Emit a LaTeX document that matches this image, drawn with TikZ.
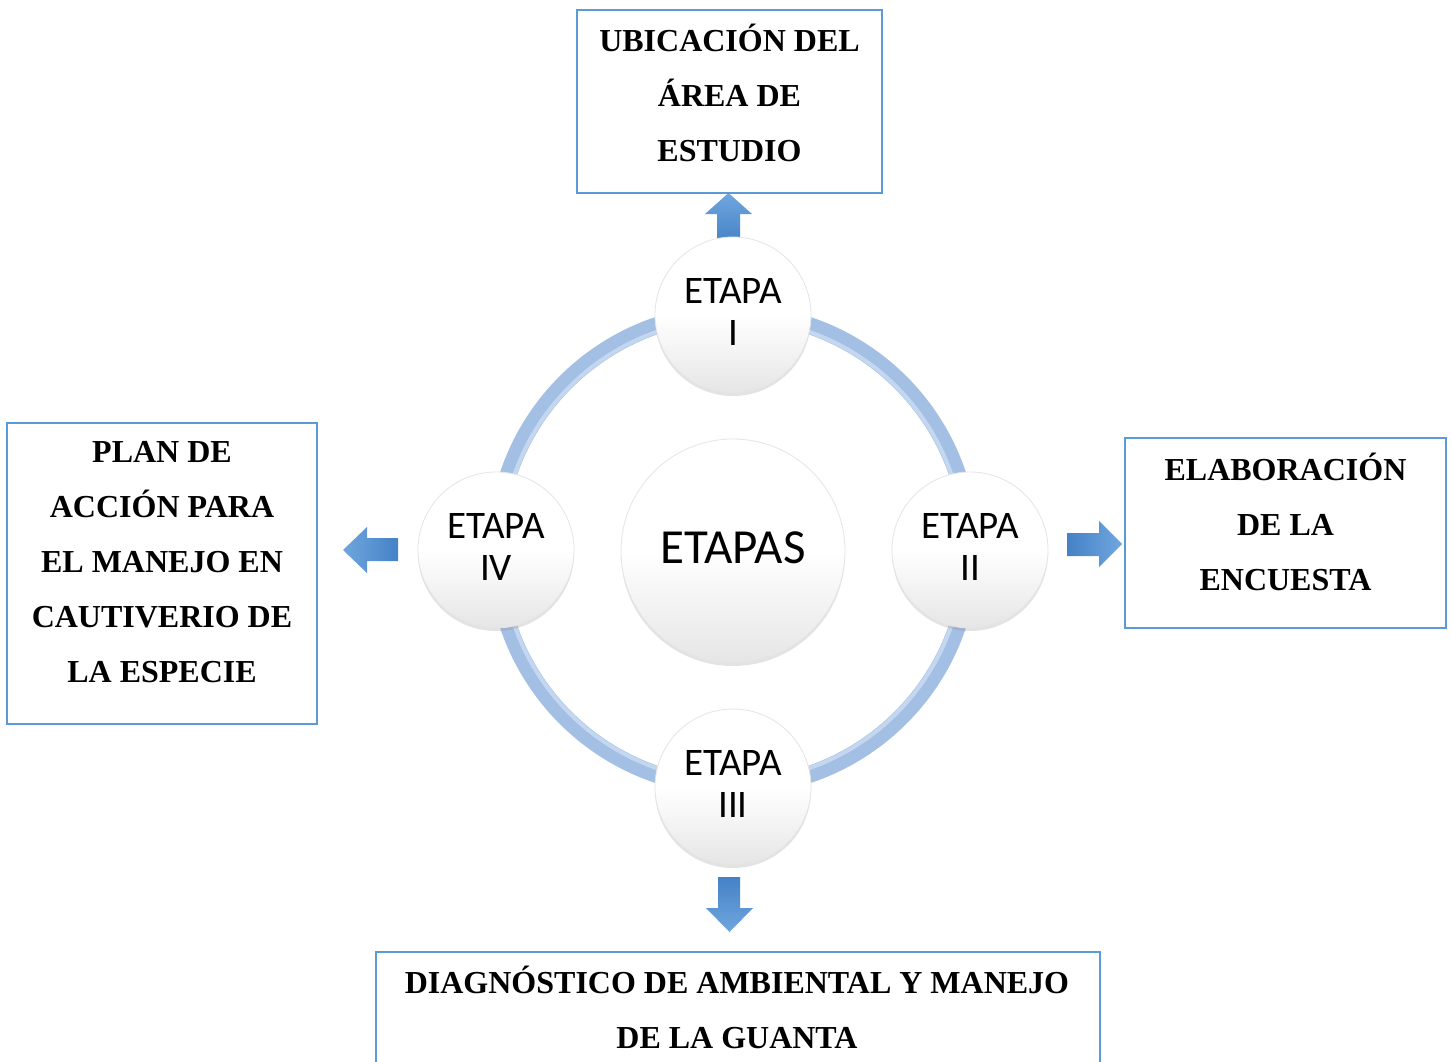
\documentclass[tikz,border=0pt]{standalone}
\usepackage{fontspec}
\setmainfont{Liberation Serif}
\newfontfamily\carl{Carlito}
\usetikzlibrary{shadows}
\definecolor{boxblue}{RGB}{91,155,213}
\definecolor{ringblue}{RGB}{163,192,228}
\definecolor{ringlight}{RGB}{196,215,240}
\definecolor{arrdark}{RGB}{68,130,198}
\definecolor{arrlight}{RGB}{112,166,222}
\begin{document}
\begin{tikzpicture}[x=1pt,y=-1pt,
  boxst/.style={draw=boxblue, line width=2.5pt, rectangle, inner sep=0pt},
  boxtext/.style={font=\bfseries\fontsize{32}{55}\selectfont, align=center, inner sep=0pt},
  stage/.style={circle, minimum size=156pt, inner sep=0pt, draw=black!10, line width=0.8pt,
    top color=white, bottom color=black!10, middle color=white,
    drop shadow={opacity=0.22, shadow xshift=0pt, shadow yshift=-3pt},
    font=\carl\fontsize{39}{42}\selectfont, align=center},
  centre/.style={stage, minimum size=224pt, font=\carl\fontsize{49}{50}\selectfont},
  blockarrow/.style={draw=none}
]
\useasboundingbox (0,0) rectangle (1451,1061);
\fill[white] (0,0) rectangle (1451,1061);

% ring
\draw[ringblue, line width=17pt] (733,550) circle[radius=237];
\draw[ringlight, line width=4pt] (733,550) circle[radius=231];

% block arrows
\path[blockarrow, top color=arrlight, bottom color=arrdark]
  (717,244) -- (717,214) -- (705,214) -- (728.5,193) -- (752,214) -- (740,214) -- (740,244) -- cycle;
\path[blockarrow, left color=arrdark, right color=arrlight]
  (1067,533) -- (1099,533) -- (1099,521) -- (1122,544) -- (1099,567) -- (1099,556) -- (1067,556) -- cycle;
\path[blockarrow, left color=arrlight, right color=arrdark]
  (398,538) -- (367,538) -- (367,527) -- (343,550) -- (367,573) -- (367,561) -- (398,561) -- cycle;
\path[blockarrow, top color=arrdark, bottom color=arrlight]
  (718,877) -- (740,877) -- (740,908) -- (753,908) -- (729.5,932) -- (706,908) -- (718,908) -- cycle;

% stage circles
\node[stage] (s1) at (733,315) {};
\node[stage] (s2) at (970,550) {};
\node[stage] (s3) at (733,787) {};
\node[stage] (s4) at (496,550) {};
\node[centre] (c) at (733,551) {};
\node[font=\carl\fontsize{39}{42}\selectfont, align=center, inner sep=0pt] (t1) at (733,312) {ETAPA\\I};
\node[font=\carl\fontsize{39}{42}\selectfont, align=center, inner sep=0pt] (t2) at (970,547) {ETAPA\\II};
\node[font=\carl\fontsize{39}{42}\selectfont, align=center, inner sep=0pt] (t3) at (733,784) {ETAPA\\III};
\node[font=\carl\fontsize{39}{42}\selectfont, align=center, inner sep=0pt] (t4) at (496,547) {ETAPA\\IV};
\node[font=\carl\fontsize{49}{50}\selectfont, inner sep=0pt] (tc) at (733,548) {ETAPAS};

% boxes
\node[boxst, minimum width=305pt, minimum height=183pt] (topbox) at (729.5,101.5) {};
\node[boxst, minimum width=321pt, minimum height=190pt] (rightbox) at (1285.5,533) {};
\node[boxst, minimum width=310pt, minimum height=301pt] (leftbox) at (162,573.5) {};
\node[boxst, minimum width=724pt, minimum height=130pt] (bottombox) at (738,1017) {};

\node[boxtext] (toptext) at (729.5,93) {UBICACIÓN DEL\\ÁREA DE\\ESTUDIO};
\node[boxtext] (righttext) at (1285.5,522) {ELABORACIÓN\\DE LA\\ENCUESTA};
\node[boxtext] (lefttext) at (162,562) {PLAN DE\\ACCIÓN PARA\\EL MANEJO EN\\CAUTIVERIO DE\\LA ESPECIE};
\node[boxtext] (bottomtext) at (737,1007.5) {DIAGNÓSTICO DE AMBIENTAL Y MANEJO\\DE LA GUANTA};
\end{tikzpicture}
\end{document}
